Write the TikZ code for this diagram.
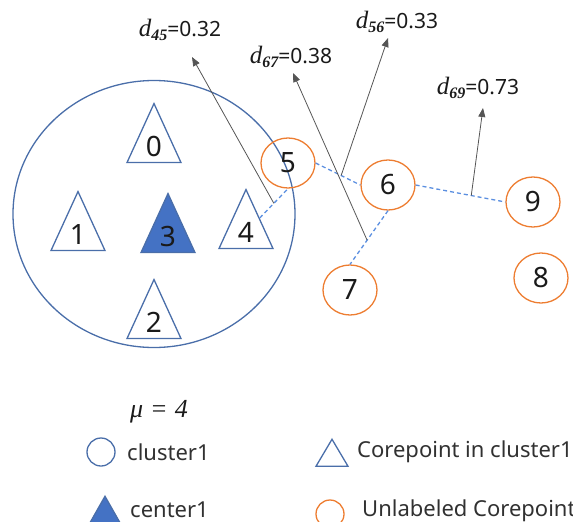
\documentclass[tikz,border=0pt]{standalone}
\usepackage{fontspec}
\setmainfont{Noto Sans}
\newfontfamily\mathserif{Liberation Serif}
\usepackage{xcolor}
\definecolor{ink}{HTML}{1A1A1A}
\definecolor{clusterblue}{HTML}{4A6EA9}
\definecolor{centerblue}{HTML}{4472C4}
\definecolor{coreorange}{HTML}{ED7D31}
\definecolor{linkblue}{HTML}{5B8FE0}
\definecolor{arrowgray}{HTML}{555555}
\usetikzlibrary{shapes.geometric,arrows.meta}
\newcommand{\dist}[1]{{\fontsize{25}{25}\selectfont\mathserif\itshape d}%
  \raisebox{-0.22em}{\fontsize{16}{16}\selectfont\mathserif\bfseries\itshape #1}}

\begin{document}
\begin{tikzpicture}[
  x=1pt, y=-1pt,
  font=\fontsize{28}{30}\selectfont, text=ink,
  cluster/.style={ellipse, draw=clusterblue, line width=1.3pt,
                  minimum width=282, minimum height=267, inner sep=0pt},
  tri/.style={isosceles triangle, isosceles triangle apex angle=49,
              isosceles triangle stretches, shape border rotate=90,
              draw=clusterblue, line width=1.3pt, inner sep=0pt,
              minimum width=54, minimum height=59, anchor=apex},
  core/.style={ellipse, draw=coreorange, line width=1.3pt, inner sep=0pt,
               minimum width=54, minimum height=50},
  nbr/.style={linkblue, line width=1.3pt, dash pattern=on 4pt off 3pt},
  distarrow/.style={-{Triangle[length=9pt,width=7pt]}, arrowgray, line width=0.8pt},
  dlab/.style={font=\fontsize{21}{23}\selectfont, inner sep=0pt},
  legtext/.style={font=\fontsize{22}{24}\selectfont, text=ink!90, inner sep=0pt, anchor=west},
  legtri/.style={isosceles triangle, isosceles triangle apex angle=62,
                 isosceles triangle stretches, shape border rotate=90,
                 draw=clusterblue, line width=1.3pt, inner sep=0pt,
                 minimum width=32, minimum height=27, anchor=apex},
  legcirc/.style={circle, line width=1.3pt, inner sep=0pt, minimum size=28}
]
  \useasboundingbox (0,0) rectangle (573,522);
  \clip (0,0) rectangle (573,522);

  % cluster 1 and its core points
  \node[cluster] (cl1) at (154,214) {};
  \node[tri] (t0) at (154,102) {0};
  \node[tri] (t1) at (78,190) {1};
  \node[tri, fill=centerblue] (t3) at (168,192) {3};
  \node[tri] (t4) at (246,188) {4};
  \node[tri] (t2) at (154,278) {2};

  % unlabeled core points
  \node[core] (c5) at (288,163) {5};
  \node[core] (c6) at (388,185) {6};
  \node[core] (c7) at (350,290) {7};
  \node[core] (c8) at (541,278) {8};
  \node[core] (c9) at (533,202) {9};

  \draw[nbr] (t4) -- coordinate[pos=0.5] (f45) (c5.south);
  \draw[nbr] (c5.east) -- coordinate[pos=0.57] (f56) (c6.west);
  \draw[nbr] (c6.south) -- coordinate[pos=0.55] (f67) (c7.north);
  \draw[nbr] (c6.east) -- coordinate[pos=0.62] (f69) (c9.west);

  % distance labels
  \coordinate (e45) at (192,57);
  \coordinate (e56) at (388,38);
  \coordinate (e67) at (293,73);
  \coordinate (e69) at (483,108);
  \draw[distarrow] (f45) -- (e45);
  \draw[distarrow] (f56) -- (e56);
  \draw[distarrow] (f67) -- (e67);
  \draw[distarrow] (f69) -- (e69);

  \node[dlab] (l45) at (180,30) {\dist{45}=0.32};
  \node[dlab] (l67) at (291,57) {\dist{67}=0.38};
  \node[dlab] (l56) at (397,22) {\dist{56}=0.33};
  \node[dlab] (l69) at (478,88) {\dist{69}=0.73};

  % legend
  \node[dlab, font=\fontsize{26}{28}\mathserif\itshape] (mu) at (159,412) {μ\hspace{7pt}=\hspace{7pt}4};
  \node[legcirc, draw=clusterblue] (k1) at (101,452) {};
  \node[legtext] (k1t) at (127,452) {cluster1};
  \node[legtri, fill=centerblue, minimum width=34, minimum height=30] (k2) at (105,495) {};
  \node[legtext] (k2t) at (130,510) {center1};
  \node[legtri] (k3) at (332,438) {};
  \node[legtext] (k3t) at (357,452) {Corepoint in cluster1};
  \node[legcirc, draw=coreorange] (k4) at (330,514) {};
  \node[legtext] (k4t) at (362,511) {Unlabeled Corepoint};
\end{tikzpicture}
\end{document}
